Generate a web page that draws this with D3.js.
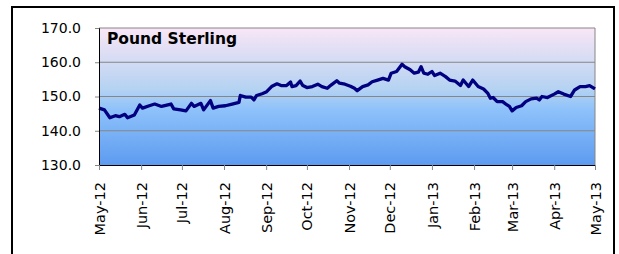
<!DOCTYPE html>
<html>
<head>
<meta charset="utf-8">
<script src="https://cdn.jsdelivr.net/npm/d3@7"></script>
<style>
  body { margin: 0; background: #fff; }
  svg { display: block; }
  text { font-family: "DejaVu Sans", sans-serif; }
</style>
</head>
<body>
<div id="chart"></div>
<script>
// values (approximate)
var dates = ["2012-05-01","2012-05-05","2012-05-09","2012-05-13","2012-05-16","2012-05-20","2012-05-22","2012-05-27",
  "2012-05-31","2012-06-02","2012-06-07","2012-06-11","2012-06-16","2012-06-23","2012-06-25","2012-06-30",
  "2012-07-04","2012-07-08","2012-07-10","2012-07-15","2012-07-17","2012-07-22","2012-07-24","2012-07-28",
  "2012-08-02","2012-08-07","2012-08-12","2012-08-13","2012-08-17","2012-08-21","2012-08-23","2012-08-25",
  "2012-08-29","2012-09-01","2012-09-05","2012-09-09","2012-09-12","2012-09-16","2012-09-19","2012-09-20",
  "2012-09-23","2012-09-26","2012-09-28","2012-10-01","2012-10-05","2012-10-09","2012-10-12","2012-10-16",
  "2012-10-19","2012-10-23","2012-10-25","2012-10-29","2012-11-02","2012-11-05","2012-11-07","2012-11-11",
  "2012-11-15","2012-11-18","2012-11-22","2012-11-26","2012-11-30","2012-12-02","2012-12-06","2012-12-10",
  "2012-12-12","2012-12-16","2012-12-19","2012-12-22","2012-12-24","2012-12-26","2012-12-29","2013-01-01",
  "2013-01-03","2013-01-07","2013-01-11","2013-01-14","2013-01-18","2013-01-22","2013-01-24","2013-01-28",
  "2013-01-31","2013-02-04","2013-02-08","2013-02-11","2013-02-13","2013-02-15","2013-02-18","2013-02-22",
  "2013-02-25","2013-02-27","2013-03-01","2013-03-04","2013-03-08","2013-03-11","2013-03-15","2013-03-19",
  "2013-03-21","2013-03-23","2013-03-27","2013-04-01","2013-04-04","2013-04-08","2013-04-13","2013-04-16",
  "2013-04-20","2013-04-24","2013-04-27","2013-05-01"];
var values = [146.6,146.1,143.8,144.4,144.1,144.8,143.8,144.6,
  147.5,146.6,147.3,147.8,147.1,147.8,146.4,146.1,
  145.8,148.0,147.1,148.0,146.1,148.8,146.6,147.1,
  147.3,147.8,148.3,150.3,149.8,149.8,149.0,150.3,
  150.8,151.3,152.9,153.7,153.2,153.2,154.2,152.9,
  153.2,154.5,153.2,152.6,152.9,153.6,152.9,152.4,
  153.4,154.6,153.9,153.6,153.0,152.4,151.7,152.9,
  153.4,154.3,154.8,155.3,154.8,156.8,157.3,159.4,
  158.7,157.8,156.8,157.1,158.7,156.8,156.5,157.3,
  156.1,156.8,155.8,154.8,154.5,153.2,154.8,152.9,
  154.8,152.9,152.2,151.0,149.5,149.7,148.5,148.5,
  147.6,147.1,145.8,146.8,147.3,148.5,149.3,149.5,
  149.0,150.0,149.7,150.7,151.4,150.7,150.0,151.9,
  152.9,152.9,153.2,152.2];
var yTicks = [130, 140, 150, 160, 170];
var title = "Pound Sterling";

var W = 619, H = 254;
var margin = { top: 28, right: 24, bottom: 89, left: 99 };
var width = W - margin.left - margin.right;
var height = H - margin.top - margin.bottom;

var parse = d3.timeParse("%Y-%m-%d");
var data = dates.map(function (d, i) { return { date: parse(d), value: values[i] }; });

var svg = d3.select("#chart").append("svg")
    .attr("width", W)
    .attr("height", H);

// outer chart border (runs off the bottom edge)
svg.append("rect")
    .attr("x", 12).attr("y", 7)
    .attr("width", 602).attr("height", 260)
    .attr("fill", "none")
    .attr("stroke", "#000")
    .attr("stroke-width", 2);

var grad = svg.append("defs").append("linearGradient")
    .attr("id", "bg").attr("x1", 0).attr("y1", 0).attr("x2", 0).attr("y2", 1);
grad.append("stop").attr("offset", "0%").attr("stop-color", "#f9e6f6");
grad.append("stop").attr("offset", "45%").attr("stop-color", "#b4d2f2");
grad.append("stop").attr("offset", "60%").attr("stop-color", "#8dc1fa");
grad.append("stop").attr("offset", "100%").attr("stop-color", "#5d9bf0");

var g = svg.append("g")
    .attr("transform", "translate(" + margin.left + "," + margin.top + ")");

var x = d3.scaleTime()
    .domain([parse("2012-05-01"), parse("2013-05-01")])
    .range([0, width]);
var y = d3.scaleLinear().domain([130, 170]).range([height, 0]);

g.append("rect")
    .attr("width", width).attr("height", height)
    .attr("fill", "url(#bg)");

// gridlines
g.selectAll(".grid")
    .data(yTicks.slice(1))
    .enter().append("line")
    .attr("x1", 0).attr("x2", width)
    .attr("y1", function (d) { return y(d); })
    .attr("y2", function (d) { return y(d); })
    .attr("stroke", "#868686")
    .attr("stroke-width", 1);

// right border of plot
g.append("line")
    .attr("x1", width).attr("x2", width)
    .attr("y1", 0).attr("y2", height)
    .attr("stroke", "#868686");

var line = d3.line()
    .x(function (d) { return x(d.date); })
    .y(function (d) { return y(d.value); });

g.append("path")
    .datum(data)
    .attr("d", line)
    .attr("fill", "none")
    .attr("stroke", "#000080")
    .attr("stroke-width", 3.3)
    .attr("stroke-linejoin", "round");

// y axis
var yAxis = g.append("g")
    .call(d3.axisLeft(y).tickValues(yTicks).tickSize(4).tickPadding(14)
        .tickFormat(d3.format(".1f")));
yAxis.select(".domain").attr("stroke", "#000");
yAxis.selectAll(".tick line").attr("stroke", "#868686");
yAxis.selectAll("text")
    .attr("font-family", "DejaVu Sans, sans-serif")
    .attr("font-size", "14px").attr("fill", "#000");

// x axis
var xAxis = g.append("g")
    .attr("transform", "translate(0," + height + ")")
    .call(d3.axisBottom(x).ticks(d3.timeMonth.every(1)).tickSize(5)
        .tickFormat(d3.timeFormat("%b-%y")));
xAxis.select(".domain").attr("stroke", "#000");
xAxis.selectAll(".tick line").attr("stroke", "#868686");
xAxis.selectAll("text")
    .attr("font-family", "DejaVu Sans, sans-serif")
    .attr("font-size", "14.5px")
    .attr("fill", "#000")
    .attr("text-anchor", "end")
    .attr("transform", "rotate(-90)")
    .attr("x", -17)
    .attr("y", 0)
    .attr("dy", "0.35em");

g.append("text")
    .attr("x", 8)
    .attr("y", 16)
    .attr("font-size", "15.5px")
    .attr("font-weight", "bold")
    .attr("fill", "#000")
    .text(title);
</script>
</body>
</html>
